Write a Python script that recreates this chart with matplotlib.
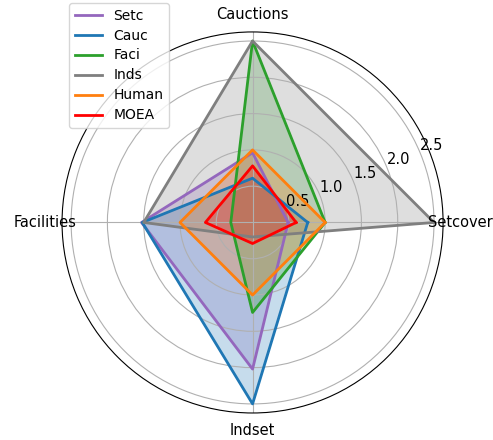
import numpy as np
import matplotlib
matplotlib.use("Agg")
import matplotlib.pyplot as plt

categories = ["Setcover", "Cauctions", "Facilities", "Indset"]

setc = [0.49, 0.96, 1.53, 2.02]
cauc = [0.76, 0.61, 1.52, 2.5]
faci = [1.0, 2.5, 0.3, 1.24]
inds = [2.5, 2.5, 1.5, 0.2]
human = [1.0, 1.0, 1.0, 1.0]
moea = [0.6, 0.78, 0.65, 0.29]

series = [
    ("Setc", setc, "tab:purple"),
    ("Cauc", cauc, "tab:blue"),
    ("Faci", faci, "tab:green"),
    ("Inds", inds, "tab:gray"),
    ("Human", human, "tab:orange"),
    ("MOEA", moea, "red"),
]

angles = np.linspace(0, 2 * np.pi, len(categories), endpoint=False).tolist()
angles += angles[:1]
rmax = 2.625

fig = plt.figure(figsize=(4.93, 4.40), dpi=100)
ax = fig.add_axes([0.1258, 0.0614, 0.773, 0.866], polar=True)

for name, vals, color in series:
    v = vals + vals[:1]
    ax.plot(angles, v, color=color, linewidth=2, label=name)
    ax.fill(angles, v, color=color, alpha=0.25)

# category names centred just outside the rim
ax.set_xticks(angles[:-1])
ax.set_xticklabels([])
for ang, cat in zip(angles[:-1], categories):
    ax.annotate(cat, xy=(ang, rmax), xytext=(12.4 * np.cos(ang), 12.4 * np.sin(ang)),
                textcoords="offset points", ha="center", va="center", fontsize=10.5,
                annotation_clip=False)

ax.set_yticks([0.5, 1.0, 1.5, 2.0, 2.5])
ax.set_yticklabels(["0.5", "1.0", "1.5", "2.0", "2.5"], fontsize=10.5)
ax.set_ylim(0, rmax)

fig.legend(loc="upper left", bbox_to_anchor=(0.126, 1.009), bbox_transform=fig.transFigure,
           labelspacing=0.43)

plt.savefig("out.png", dpi=100)
